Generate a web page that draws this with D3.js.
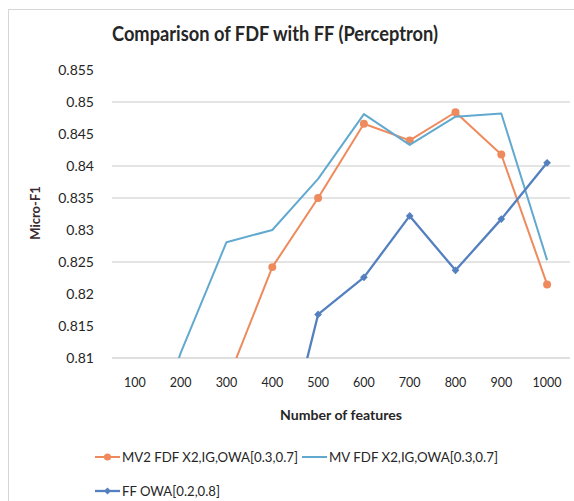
<!DOCTYPE html>
<html lang="en">
<head>
<meta charset="UTF-8">
<title>Comparison of FDF with FF (Perceptron)</title>
<script src="https://d3js.org/d3.v7.min.js"></script>
<style>
  body { margin: 0; background: #fff; }
  text { font-family: Lato, "Open Sans", sans-serif; fill: #262626; }
</style>
</head>
<body>
<div id="chart"></div>
<script>
// data
var features = ["100", "200", "300", "400", "500", "600", "700", "800", "900", "1000"]
var mv2FdfValues = [0.790, 0.798, 0.8061, 0.8242, 0.8350, 0.8466, 0.8440, 0.8484, 0.8418, 0.8215]
var mvFdfValues = [0.790, 0.8108, 0.8281, 0.8300, 0.8380, 0.8481, 0.8433, 0.8477, 0.8482, 0.8253]
var ffOwaValues = [0.770, 0.775, 0.780, 0.788, 0.8168, 0.8226, 0.8322, 0.8237, 0.8317, 0.8405]
var yTicks = [0.81, 0.815, 0.82, 0.825, 0.83, 0.835, 0.84, 0.845, 0.85, 0.855]
var yTickLabels = ["0.81", "0.815", "0.82", "0.825", "0.83", "0.835", "0.84", "0.845", "0.85", "0.855"]
var gridValues = [0.825, 0.835, 0.84, 0.85]
var seriesNames = ["MV2 FDF X2,IG,OWA[0.3,0.7]", "MV FDF X2,IG,OWA[0.3,0.7]", "FF OWA[0.2,0.8]"]

var width = 574, height = 501
var plotLeft = 112, plotRight = 570, plotTop = 70, plotBottom = 358

var svg = d3.select("#chart").append("svg")
    .attr("width", width)
    .attr("height", height)

// chart frame
svg.append("rect")
    .attr("x", 8.5).attr("y", 9.5)
    .attr("width", width).attr("height", height)
    .attr("fill", "#fff")
    .attr("stroke", "#d6d6d6")

var x = d3.scaleBand().domain(features).range([plotLeft, plotRight])
var y = d3.scaleLinear().domain([0.81, 0.855]).range([plotBottom, plotTop])
var cx = function(d) { return x(d) + x.bandwidth() / 2 }

svg.append("defs").append("clipPath").attr("id", "plot")
    .append("rect")
    .attr("x", plotLeft).attr("y", plotTop - 5)
    .attr("width", plotRight - plotLeft).attr("height", plotBottom - plotTop + 5)

// grid lines
svg.selectAll(".grid").data(gridValues).enter().append("line")
    .attr("x1", plotLeft).attr("x2", plotRight)
    .attr("y1", function(d) { return y(d) }).attr("y2", function(d) { return y(d) })
    .attr("stroke", "#c9c9c9").attr("stroke-width", 1.2)

// category axis line
svg.append("line")
    .attr("x1", plotLeft).attr("x2", plotRight)
    .attr("y1", y(0.81)).attr("y2", y(0.81))
    .attr("stroke", "#bfbfbf").attr("stroke-width", 1.2)

// y tick labels
svg.selectAll(".ylab").data(yTicks).enter().append("text")
    .attr("x", 94)
    .attr("y", function(d) { return y(d) })
    .attr("dy", "0.35em")
    .attr("text-anchor", "end")
    .style("font-size", "14px")
    .text(function(d, i) { return yTickLabels[i] })

// x tick labels
svg.selectAll(".xlab").data(features).enter().append("text")
    .attr("x", cx)
    .attr("y", 383)
    .attr("dy", "0.35em")
    .attr("text-anchor", "middle")
    .style("font-size", "12.5px")
    .text(function(d) { return d })

// titles
svg.append("text")
    .attr("x", 112).attr("y", 41)
    .attr("textLength", 326).attr("lengthAdjust", "spacingAndGlyphs")
    .style("font-size", "20px").style("font-weight", "bold")
    .text("Comparison of FDF with FF (Perceptron)")

svg.append("text")
    .attr("x", 341).attr("y", 420)
    .attr("text-anchor", "middle")
    .attr("textLength", 122).attr("lengthAdjust", "spacingAndGlyphs")
    .style("font-size", "13px").style("font-weight", "bold")
    .text("Number of features")

svg.append("text")
    .attr("transform", "translate(40,213) rotate(-90)")
    .attr("text-anchor", "middle")
    .style("font-size", "13px").style("font-weight", "bold")
    .style("fill", "#3a2a30")
    .text("Micro-F1")

var series = [
    { name: seriesNames[0], values: mv2FdfValues, color: "#ee8a5c", width: 2, marker: "circle" },
    { name: seriesNames[1], values: mvFdfValues, color: "#62a9cf", width: 2, marker: null },
    { name: seriesNames[2], values: ffOwaValues, color: "#5580bf", width: 2.3, marker: "diamond" }
]

function marker(type, small) {
    if (type == "circle") return d3.symbol().type(d3.symbolCircle).size(small ? 40 : 50)
    return d3.symbol().type(d3.symbolSquare).size(small ? 24 : 30)
}
var rot = function(type) { return type == "diamond" ? " rotate(45)" : "" }

var line = d3.line()
    .x(function(d, i) { return cx(features[i]) })
    .y(function(d) { return y(d) })

var plot = svg.append("g").attr("clip-path", "url(#plot)")

series.forEach(function(s) {
    plot.append("path")
        .datum(s.values)
        .attr("d", line)
        .attr("fill", "none")
        .attr("stroke", s.color)
        .attr("stroke-width", s.width)
        .attr("stroke-linejoin", "round")
    if (s.marker) {
        plot.selectAll(".m").data(s.values.map(function(v, i) { return [features[i], v] }))
            .enter().append("path")
            .attr("d", marker(s.marker))
            .attr("transform", function(d) { return "translate(" + cx(d[0]) + "," + y(d[1]) + ")" + rot(s.marker) })
            .attr("fill", s.color)
    }
})

// legend
var legendPos = [[95, 457, 176], [302, 457, 169], [95, 491, 98]]
series.forEach(function(s, i) {
    var p = legendPos[i]
    var g = svg.append("g").attr("transform", "translate(" + p[0] + "," + p[1] + ")")
    g.append("line").attr("x1", 0).attr("x2", 25)
        .attr("stroke", s.color).attr("stroke-width", s.width)
    if (s.marker) {
        g.append("path")
            .attr("d", marker(s.marker, true))
            .attr("transform", "translate(12.5,0)" + rot(s.marker))
            .attr("fill", s.color)
    }
    g.append("text")
        .attr("x", 27).attr("dy", "0.35em")
        .attr("textLength", p[2]).attr("lengthAdjust", "spacingAndGlyphs")
        .style("font-size", "13px")
        .text(s.name)
})
</script>
</body>
</html>
